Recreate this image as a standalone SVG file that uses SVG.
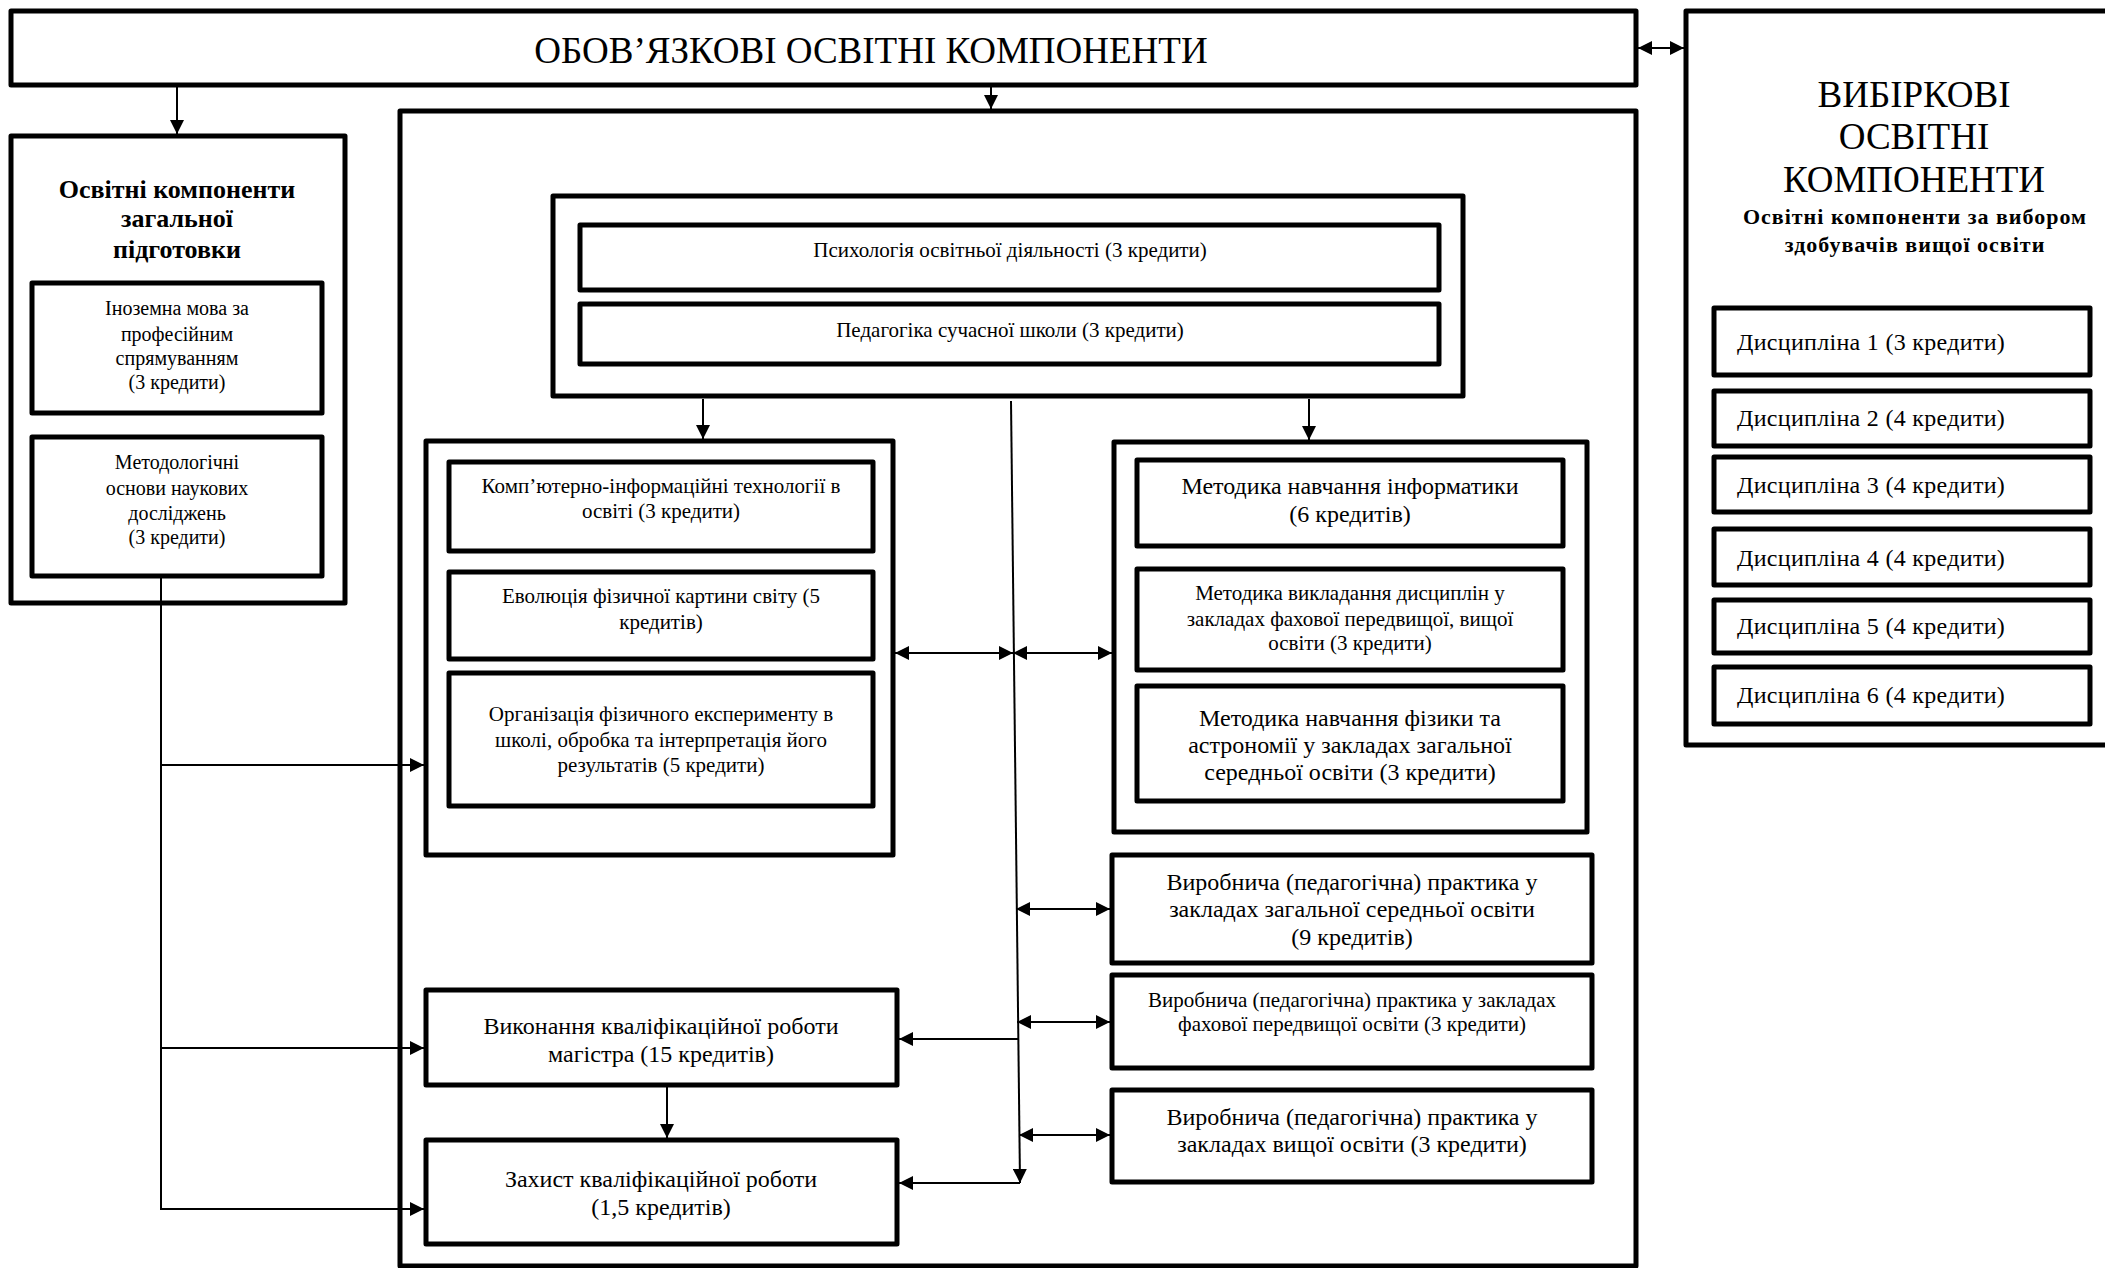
<svg xmlns="http://www.w3.org/2000/svg" width="2105" height="1268" viewBox="0 0 2105 1268">
<style>
.box{fill:#fff;stroke:#000;stroke-width:5;stroke-linejoin:round}
.ln{fill:none;stroke:#000;stroke-width:2}
text{font-family:"Liberation Serif","Times New Roman",serif;fill:#000;text-anchor:middle}
.t37{font-size:37px}
.tb{font-weight:bold}
.t26{font-size:26px}
.t22{font-size:22px}
.t24{font-size:24px}
.t21{font-size:21px}
.t20{font-size:20px}
.d{font-size:24px;text-anchor:start;letter-spacing:0.3px}
</style>
<defs>
<marker id="ah" markerUnits="userSpaceOnUse" markerWidth="15" markerHeight="14" refX="14" refY="7" orient="auto-start-reverse">
<path d="M0,0 L14,7 L0,14 z" fill="#000"/>
</marker>
</defs>
<rect width="2105" height="1268" fill="#fff"/>

<g id="big-container"><rect class="box" x="400" y="111" width="1236" height="1155"/></g>

<g id="top"><rect class="box" x="11" y="11" width="1625" height="74"/>
<text class="t37" x="871" y="63">ОБОВ’ЯЗКОВІ ОСВІТНІ КОМПОНЕНТИ</text></g>

<g id="elective"><rect class="box" x="1686" y="11" width="430" height="734"/>
<text class="t37" x="1914" y="107">ВИБІРКОВІ</text>
<text class="t37" x="1914" y="149">ОСВІТНІ</text>
<text class="t37" x="1914" y="192">КОМПОНЕНТИ</text>
<text class="t22 tb" x="1915" y="224" style="letter-spacing:1px">Освітні компоненти за вибором</text>
<text class="t22 tb" x="1915" y="252" style="letter-spacing:1px">здобувачів вищої освіти</text></g>
<g id="d1"><rect class="box" x="1714" y="308" width="376" height="67"/><text class="d" x="1737" y="350">Дисципліна 1 (3 кредити)</text></g>
<g id="d2"><rect class="box" x="1714" y="391" width="376" height="55"/><text class="d" x="1737" y="426">Дисципліна 2 (4 кредити)</text></g>
<g id="d3"><rect class="box" x="1714" y="457" width="376" height="55"/><text class="d" x="1737" y="493">Дисципліна 3 (4 кредити)</text></g>
<g id="d4"><rect class="box" x="1714" y="529" width="376" height="56"/><text class="d" x="1737" y="566">Дисципліна 4 (4 кредити)</text></g>
<g id="d5"><rect class="box" x="1714" y="600" width="376" height="53"/><text class="d" x="1737" y="634">Дисципліна 5 (4 кредити)</text></g>
<g id="d6"><rect class="box" x="1714" y="667" width="376" height="57"/><text class="d" x="1737" y="703">Дисципліна 6 (4 кредити)</text></g>

<g id="general"><rect class="box" x="11" y="136" width="334" height="467"/>
<text class="t26 tb" x="177" y="198">Освітні компоненти</text>
<text class="t26 tb" x="177" y="227">загальної</text>
<text class="t26 tb" x="177" y="258">підготовки</text></g>
<g id="foreign"><rect class="box" x="32" y="283" width="290" height="130"/>
<text class="t20" x="177" y="315">Іноземна мова за</text>
<text class="t20" x="177" y="341">професійним</text>
<text class="t20" x="177" y="365">спрямуванням</text>
<text class="t20" x="177" y="389">(3 кредити)</text></g>
<g id="method"><rect class="box" x="32" y="437" width="290" height="139"/>
<text class="t20" x="177" y="469">Методологічні</text>
<text class="t20" x="177" y="495">основи наукових</text>
<text class="t20" x="177" y="520">досліджень</text>
<text class="t20" x="177" y="544">(3 кредити)</text></g>

<g id="core"><rect class="box" x="553" y="196" width="910" height="200"/></g>
<g id="psych"><rect class="box" x="580" y="225" width="859" height="65"/>
<text class="t21" x="1010" y="257">Психологія освітньої діяльності (3 кредити)</text></g>
<g id="pedag"><rect class="box" x="580" y="304" width="859" height="60"/>
<text class="t21" x="1010" y="337">Педагогіка сучасної школи (3 кредити)</text></g>

<g id="left-group"><rect class="box" x="426" y="441" width="467" height="414"/></g>
<g id="cit"><rect class="box" x="449" y="462" width="424" height="89"/>
<text class="t21" x="661" y="493">Комп’ютерно-інформаційні технології в</text>
<text class="t21" x="661" y="518">освіті (3 кредити)</text></g>
<g id="evol"><rect class="box" x="449" y="572" width="424" height="87"/>
<text class="t21" x="661" y="603">Еволюція фізичної картини світу (5</text>
<text class="t21" x="661" y="629">кредитів)</text></g>
<g id="exper"><rect class="box" x="449" y="673" width="424" height="133"/>
<text class="t21" x="661" y="721">Організація фізичного експерименту в</text>
<text class="t21" x="661" y="747">школі, обробка та інтерпретація його</text>
<text class="t21" x="661" y="772">результатів (5 кредити)</text></g>

<g id="right-group"><rect class="box" x="1114" y="442" width="473" height="390"/></g>
<g id="mni"><rect class="box" x="1137" y="460" width="426" height="86"/>
<text class="t24" x="1350" y="494">Методика навчання інформатики</text>
<text class="t24" x="1350" y="522">(6 кредитів)</text></g>
<g id="mvd"><rect class="box" x="1137" y="569" width="426" height="101"/>
<text class="t21" x="1350" y="600">Методика викладання дисциплін у</text>
<text class="t21" x="1350" y="626">закладах фахової передвищої, вищої</text>
<text class="t21" x="1350" y="650">освіти (3 кредити)</text></g>
<g id="mnf"><rect class="box" x="1137" y="686" width="426" height="115"/>
<text class="t24" x="1350" y="726">Методика навчання фізики та</text>
<text class="t24" x="1350" y="753">астрономії у закладах загальної</text>
<text class="t24" x="1350" y="780">середньої освіти (3 кредити)</text></g>

<g id="p1"><rect class="box" x="1112" y="855" width="480" height="108"/>
<text class="t24" x="1352" y="890">Виробнича (педагогічна) практика у</text>
<text class="t24" x="1352" y="917">закладах загальної середньої освіти</text>
<text class="t24" x="1352" y="945">(9 кредитів)</text></g>
<g id="p2"><rect class="box" x="1112" y="975" width="480" height="93"/>
<text class="t21" x="1352" y="1007">Виробнича (педагогічна) практика у закладах</text>
<text class="t21" x="1352" y="1031">фахової передвищої освіти (3 кредити)</text></g>
<g id="p3"><rect class="box" x="1112" y="1090" width="480" height="92"/>
<text class="t24" x="1352" y="1125">Виробнича (педагогічна) практика у</text>
<text class="t24" x="1352" y="1152">закладах вищої освіти (3 кредити)</text></g>

<g id="thesis"><rect class="box" x="426" y="990" width="471" height="95"/>
<text class="t24" x="661" y="1034">Виконання кваліфікаційної роботи</text>
<text class="t24" x="661" y="1062">магістра (15 кредитів)</text></g>
<g id="defense"><rect class="box" x="426" y="1140" width="471" height="104"/>
<text class="t24" x="661" y="1187">Захист кваліфікаційної роботи</text>
<text class="t24" x="661" y="1215">(1,5 кредитів)</text></g>

<g id="connectors">
<line class="ln" x1="177" y1="85" x2="177" y2="134" marker-end="url(#ah)"/>
<line class="ln" x1="991" y1="85" x2="991" y2="109" marker-end="url(#ah)"/>
<line class="ln" x1="1638" y1="48" x2="1684" y2="48" marker-start="url(#ah)" marker-end="url(#ah)"/>
<line class="ln" x1="703" y1="399" x2="703" y2="439" marker-end="url(#ah)"/>
<line class="ln" x1="1309" y1="399" x2="1309" y2="440" marker-end="url(#ah)"/>
<line class="ln" x1="1011" y1="401" x2="1020" y2="1183" marker-end="url(#ah)"/>
<line class="ln" x1="895" y1="653" x2="1013" y2="653" marker-start="url(#ah)" marker-end="url(#ah)"/>
<line class="ln" x1="1013" y1="653" x2="1112" y2="653" marker-start="url(#ah)" marker-end="url(#ah)"/>
<line class="ln" x1="1016" y1="909" x2="1110" y2="909" marker-start="url(#ah)" marker-end="url(#ah)"/>
<line class="ln" x1="1017" y1="1022" x2="1110" y2="1022" marker-start="url(#ah)" marker-end="url(#ah)"/>
<line class="ln" x1="1019" y1="1135" x2="1110" y2="1135" marker-start="url(#ah)" marker-end="url(#ah)"/>
<line class="ln" x1="1018" y1="1039" x2="899" y2="1039" marker-end="url(#ah)"/>
<line class="ln" x1="1020" y1="1183" x2="899" y2="1183" marker-end="url(#ah)"/>
<polyline class="ln" points="161,577 161,1209 424,1209" marker-end="url(#ah)"/>
<line class="ln" x1="161" y1="765" x2="424" y2="765" marker-end="url(#ah)"/>
<line class="ln" x1="161" y1="1048" x2="424" y2="1048" marker-end="url(#ah)"/>
<line class="ln" x1="667" y1="1085" x2="667" y2="1138" marker-end="url(#ah)"/>
</g>
</svg>
